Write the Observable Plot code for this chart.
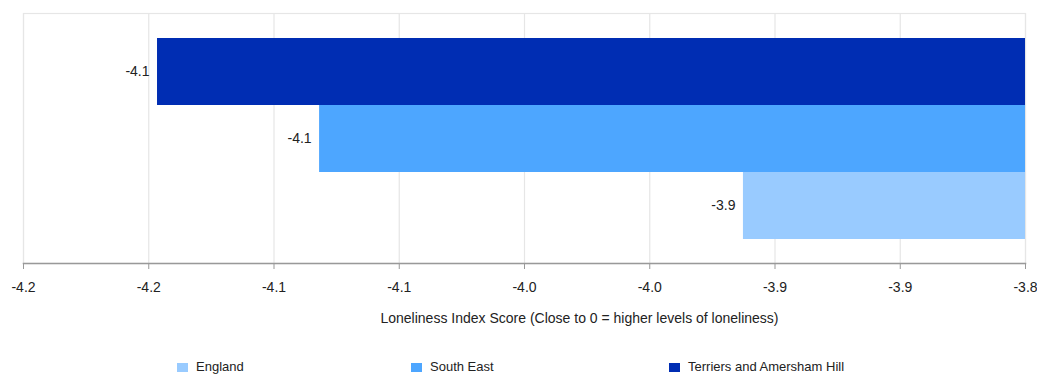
<!DOCTYPE html>
<html><head><meta charset="utf-8">
<script src="https://cdn.jsdelivr.net/npm/d3@7"></script>
<script src="https://cdn.jsdelivr.net/npm/@observablehq/plot@0.6"></script>
<style>
body{margin:0;background:#fff;font-family:"Liberation Sans",Arial,sans-serif;}
#legend{position:relative;height:29px;font-size:13px;color:#222;}
#legend .item{position:absolute;top:15px;display:flex;align-items:center;line-height:14px;white-space:nowrap;}
#legend .sw{width:11px;height:9px;margin-right:8px;display:inline-block;}
</style></head><body><div id="chart"></div><div id="legend"></div>
<script>
const categories = ["Terriers and Amersham Hill", "South East", "England"];
const values = [-4.1465, -4.0818, -3.9126];
const colors = ["#002db3", "#4da6ff", "#99cbff"];
const baseline = -3.8;
const xDomain = [-4.2, -3.8];
const tickValues = [-4.2, -4.15, -4.1, -4.05, -4.0, -3.95, -3.9, -3.85, -3.8];
const tickLabels = ["-4.2", "-4.2", "-4.1", "-4.1", "-4.0", "-4.0", "-3.9", "-3.9", "-3.8"];
const axisTitle = "Loneliness Index Score (Close to 0 = higher levels of loneliness)";
const legendOrder = ["England", "South East", "Terriers and Amersham Hill"];

const data = categories.map((c, i) => ({category: c, value: values[i], base: baseline}));

const plot = Plot.plot({
  width: 1037, height: 345,
  marginLeft: 23, marginRight: 12, marginTop: 13, marginBottom: 82,
  style: {fontFamily: "'Liberation Sans', Arial, sans-serif", fontSize: "14px", color: "#222", background: "#fff"},
  x: {domain: xDomain},
  y: {domain: categories, paddingInner: 0, paddingOuter: 0.36, axis: null},
  color: {domain: categories, range: colors},
  marks: [
    Plot.gridX(tickValues, {stroke: "#e6e6e6", strokeOpacity: 1, strokeWidth: 1.2}),
    Plot.frame({stroke: "#e6e6e6", strokeWidth: 1.2}),
    Plot.barX(data, {y: "category", x1: "value", x2: "base", fill: "category"}),
    Plot.text(data, {y: "category", x: "value", text: d => d.value.toFixed(1), textAnchor: "end", dx: -8, fill: "#222", fontSize: 14}),
    Plot.frame({anchor: "bottom", stroke: "#999", strokeWidth: 1.5}),
    Plot.axisX({ticks: tickValues, tickFormat: d => tickLabels[tickValues.indexOf(d)], tickSize: 6, tickPadding: 13, stroke: "#999", fill: "#222", fontSize: 14, label: null}),
    Plot.text([axisTitle], {frameAnchor: "bottom", text: d => d, dx: 55, dy: 59, fill: "#222", fontSize: 14})
  ]
});
document.getElementById("chart").appendChild(plot);

const legendX = [177, 411, 669];
const legend = document.getElementById("legend");
legendOrder.forEach((name, i) => {
  const item = document.createElement("div");
  item.className = "item";
  item.style.left = legendX[i] + "px";
  const sw = document.createElement("span");
  sw.className = "sw";
  sw.style.background = colors[categories.indexOf(name)];
  item.appendChild(sw);
  item.appendChild(document.createTextNode(name));
  legend.appendChild(item);
});
</script>
</body></html>
